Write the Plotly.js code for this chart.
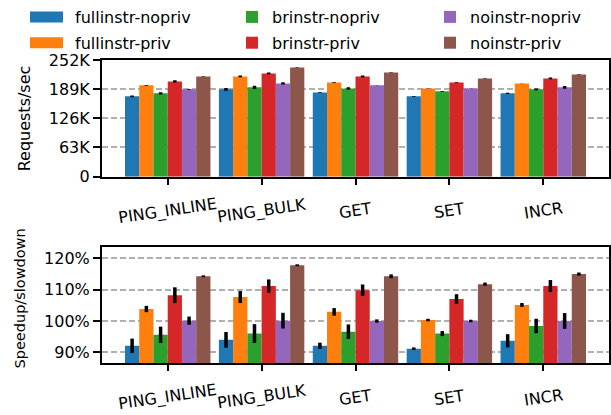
<!DOCTYPE html>
<html>
<head>
<meta charset="utf-8">
<script src="https://cdn.plot.ly/plotly-3.0.1.min.js"></script>
<style>html,body{margin:0;padding:0;background:#fff;}#chart{width:611px;height:415px;}</style>
</head>
<body>
<div id="chart"></div>
<script>
const categories = ['PING_INLINE', 'PING_BULK', 'GET', 'SET', 'INCR'];
const seriesNames = ['fullinstr-nopriv', 'fullinstr-priv', 'brinstr-nopriv', 'brinstr-priv', 'noinstr-nopriv', 'noinstr-priv'];
const seriesColors = ['#1f77b4', '#ff7f0e', '#2ca02c', '#d62728', '#9467bd', '#8c564b'];
const seriesLegends = ['legend', 'legend', 'legend2', 'legend2', 'legend3', 'legend3'];

// Requests/sec
const rpsFullinstrNopriv = [173500, 188600, 182000, 173500, 180000];
const rpsFullinstrPriv   = [197200, 216500, 203600, 190700, 201500];
const rpsBrinstrNopriv   = [180000, 192900, 190700, 184300, 188600];
const rpsBrinstrPriv     = [205800, 223000, 216500, 203600, 212200];
const rpsNoinstrNopriv   = [188600, 201500, 197200, 190700, 192900];
const rpsNoinstrPriv     = [216500, 235900, 225000, 212200, 220800];

const rpsErrFullinstrNopriv = [2000, 3000, 1000, 1000, 1500];
const rpsErrFullinstrPriv   = [1000, 2000, 1000, 500, 500];
const rpsErrBrinstrNopriv   = [2500, 3500, 2500, 1000, 2000];
const rpsErrBrinstrPriv     = [2500, 2000, 2000, 1000, 2000];
const rpsErrNoinstrNopriv   = [1000, 2500, 500, 500, 3000];
const rpsErrNoinstrPriv     = [500, 500, 500, 500, 500];

// Speedup/slowdown (%)
const spFullinstrNopriv = [92.1, 94.0, 92.1, 91.2, 93.7];
const spFullinstrPriv   = [103.8, 107.6, 102.9, 100.3, 105.1];
const spBrinstrNopriv   = [95.6, 96.0, 96.6, 96.0, 98.4];
const spBrinstrPriv     = [108.2, 111.1, 109.8, 107.0, 111.1];
const spNoinstrNopriv   = [100.1, 100.1, 100.0, 100.0, 100.0];
const spNoinstrPriv     = [114.2, 117.7, 114.2, 111.7, 114.9];

const spErrFullinstrNopriv = [2.3, 2.5, 1.0, 0.4, 2.1];
const spErrFullinstrPriv   = [1.0, 1.9, 1.2, 0.4, 0.6];
const spErrBrinstrNopriv   = [2.6, 3.0, 2.3, 0.8, 2.3];
const spErrBrinstrPriv     = [2.5, 2.1, 1.8, 1.5, 1.9];
const spErrNoinstrNopriv   = [1.3, 2.5, 0.5, 0.4, 2.5];
const spErrNoinstrPriv     = [0.3, 0.3, 0.6, 0.5, 0.5];

const rpsTickVals = [0, 63000, 126000, 189000, 252000];
const rpsTickText = ['0', '63K', '126K', '189K', '252K'];
const spTickVals = [90, 100, 110, 120];
const spTickText = ['90%', '100%', '110%', '120%'];

const rpsSeries = [rpsFullinstrNopriv, rpsFullinstrPriv, rpsBrinstrNopriv, rpsBrinstrPriv, rpsNoinstrNopriv, rpsNoinstrPriv];
const rpsErrs = [rpsErrFullinstrNopriv, rpsErrFullinstrPriv, rpsErrBrinstrNopriv, rpsErrBrinstrPriv, rpsErrNoinstrNopriv, rpsErrNoinstrPriv];
const spSeries = [spFullinstrNopriv, spFullinstrPriv, spBrinstrNopriv, spBrinstrPriv, spNoinstrNopriv, spNoinstrPriv];
const spErrs = [spErrFullinstrNopriv, spErrFullinstrPriv, spErrBrinstrNopriv, spErrBrinstrPriv, spErrNoinstrNopriv, spErrNoinstrPriv];

const FONT = 'DejaVu Sans, sans-serif';
const traces = [];
seriesNames.forEach((name, i) => {
  traces.push({
    type: 'bar', name: name, x: categories, y: rpsSeries[i],
    xaxis: 'x', yaxis: 'y',
    marker: {color: seriesColors[i], line: {width: 0}},
    error_y: {type: 'data', array: rpsErrs[i], visible: true, color: '#000', thickness: 3.5, width: 0},
    legend: seriesLegends[i], legendgroup: name, showlegend: true
  });
});
seriesNames.forEach((name, i) => {
  traces.push({
    type: 'bar', name: name, x: categories, y: spSeries[i],
    xaxis: 'x2', yaxis: 'y2',
    marker: {color: seriesColors[i], line: {width: 0}},
    error_y: {type: 'data', array: spErrs[i], visible: true, color: '#000', thickness: 3.5, width: 0},
    legendgroup: name, showlegend: false
  });
});

const xCommon = {
  type: 'category', range: [-0.7, 4.7], showline: true, linecolor: '#000', linewidth: 2, mirror: true,
  ticks: 'outside', ticklen: 6, tickwidth: 2, tickcolor: '#000', showticklabels: false,
  showgrid: false, zeroline: false
};
const yCommon = {
  showline: true, linecolor: '#000', linewidth: 2, mirror: true,
  ticks: 'outside', ticklen: 7, tickwidth: 2, tickcolor: '#000',
  tickfont: {family: FONT, size: 16, color: '#000'},
  showgrid: true, gridcolor: '#b0b0b0', gridwidth: 2, griddash: '6px,3px', zeroline: false, tickmode: 'array'
};

const annotations = [];
categories.forEach(c => {
  ['y domain', 'y2 domain'].forEach((yr, k) => {
    annotations.push({
      text: c, x: c, xref: k === 0 ? 'x' : 'x2', y: 0, yref: yr, yshift: -34,
      xanchor: 'center', yanchor: 'middle', textangle: -8.5, showarrow: false,
      font: {family: FONT, size: 16, color: '#000'}
    });
  });
});
annotations.push({
  text: 'Requests/sec', xref: 'paper', x: -0.1538, yref: 'y domain', y: 0.5,
  xanchor: 'center', yanchor: 'middle', textangle: -90, showarrow: false,
  font: {family: FONT, size: 16, color: '#000'}
});
annotations.push({
  text: 'Speedup/slowdown', xref: 'paper', x: -0.1627, yref: 'paper', y: 0.2112,
  xanchor: 'center', yanchor: 'middle', textangle: -90, showarrow: false,
  font: {family: FONT, size: 14.5, color: '#000'}
});

const legendCommon = {
  xref: 'container', yref: 'container', yanchor: 'top', xanchor: 'left',
  orientation: 'v', bgcolor: 'rgba(0,0,0,0)', borderwidth: 0,
  font: {family: FONT, size: 16, color: '#000'}, tracegroupgap: 2, itemclick: false
};

const layout = {
  width: 611, height: 415,
  margin: {l: 102, r: 2, t: 60, b: 52, autoexpand: false},
  paper_bgcolor: '#fff', plot_bgcolor: '#fff',
  font: {family: FONT, size: 14, color: '#000'},
  barmode: 'group', bargap: 0.09, bargroupgap: 0,
  xaxis: Object.assign({}, xCommon, {anchor: 'y', domain: [0, 1]}),
  yaxis: Object.assign({}, yCommon, {anchor: 'x', domain: [0.615, 1], range: [0, 252000], tickvals: rpsTickVals, ticktext: rpsTickText}),
  xaxis2: Object.assign({}, xCommon, {anchor: 'y2', domain: [0, 1]}),
  yaxis2: Object.assign({}, yCommon, {anchor: 'x2', domain: [0, 0.3828], range: [86.65, 123.5], tickvals: spTickVals, ticktext: spTickText}),
  legend: Object.assign({}, legendCommon, {x: 35 / 611, y: 1 - 0 / 415}),
  legend2: Object.assign({}, legendCommon, {x: 232 / 611, y: 1 - 0 / 415}),
  legend3: Object.assign({}, legendCommon, {x: 430 / 611, y: 1 - 0 / 415}),
  annotations: annotations,
  showlegend: true
};

Plotly.newPlot('chart', traces, layout, {displayModeBar: false, staticPlot: true}).then(gd => {
  // widen legend swatches to matplotlib-like rectangles
  gd.querySelectorAll('.legend .legendpoints path').forEach(p => {
    p.setAttribute('d', 'M8,5.5H-25V-5.5H8Z');
  });
  gd.querySelectorAll('.legend').forEach(l => {
    const bg = l.querySelector('.scrollbox');
    if (bg) bg.removeAttribute('clip-path');
  });
});
</script>
</body>
</html>
